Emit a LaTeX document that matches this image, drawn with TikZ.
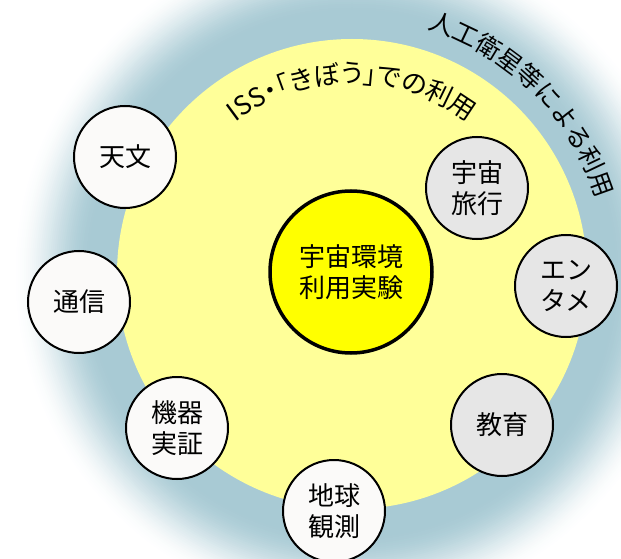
\documentclass[tikz,border=0pt]{standalone}
\usepackage{fontspec}
\setmainfont{Noto Sans CJK JP}
\newfontfamily\paltfont[RawFeature=+palt]{Noto Sans CJK JP}
\usetikzlibrary{decorations.text,calc}
\definecolor{glowblue}{RGB}{168,202,212}
\definecolor{paleyellow}{RGB}{255,255,153}
\definecolor{coreyellow}{RGB}{255,255,0}
\definecolor{nodewhite}{RGB}{251,250,249}
\definecolor{nodegray}{RGB}{230,230,230}
\begin{document}
\begin{tikzpicture}[x=1pt,y=1pt,
  usebase/.style={circle, draw=black, line width=2pt, minimum size=102pt,
    inner sep=0pt, align=center, font=\fontsize{26}{31}\selectfont},
  usewhite/.style={usebase, fill=nodewhite},
  usegray/.style={usebase, fill=nodegray},
  core/.style={circle, draw=black, line width=3.5pt, fill=coreyellow,
    minimum size=162pt, inner sep=0pt, align=center,
    font=\fontsize{26}{31}\selectfont}]
\useasboundingbox (0,0) rectangle (621,558);
\coordinate (C) at (352,284);
\begin{scope}
  \clip (0,0) rectangle (621,558);
  \fill[white] (0,0) rectangle (621,558);
  \foreach \r in {340,338,...,258}{
    \pgfmathsetmacro\t{min(1,max(0,(340-\r)/78))}
    \pgfmathsetmacro\p{100*(3*\t*\t-2*\t*\t*\t)}
    \fill[glowblue!\p!white] (C) circle[radius=\r];
  }
\end{scope}
\fill[paleyellow] (C) circle[radius=235];
% curved labels
\path[decorate, decoration={text along path, text align=center,
  text={|\paltfont\fontsize{26}{26}\selectfont|ISS・「きぼう」での利用}}]
  ($(C)+(150:191)$) arc[start angle=150, end angle=30, radius=191];
\path[decorate, decoration={text along path, text align=center,
  text={|\fontsize{25}{25}\selectfont|人工衛星等による利用}}]
  ($(C)+(100:256)$) arc[start angle=100, end angle=-10, radius=256];
% nodes
\node[core] (center) at (351,286) {宇宙環境\\利用実験};
\node[usewhite] (tenmon) at (125,401) {天文};
\node[usewhite] (tsushin) at (79,256) {通信};
\node[usewhite] (kiki) at (177,130) {機器\\実証};
\node[usewhite] (chikyu) at (334,47) {地球\\観測};
\node[usegray] (kyoiku) at (502,133) {教育};
\node[usegray] (enta) at (566,272) {エン\\タメ};
\node[usegray] (ryoko) at (477,370) {宇宙\\旅行};
\end{tikzpicture}
\end{document}
